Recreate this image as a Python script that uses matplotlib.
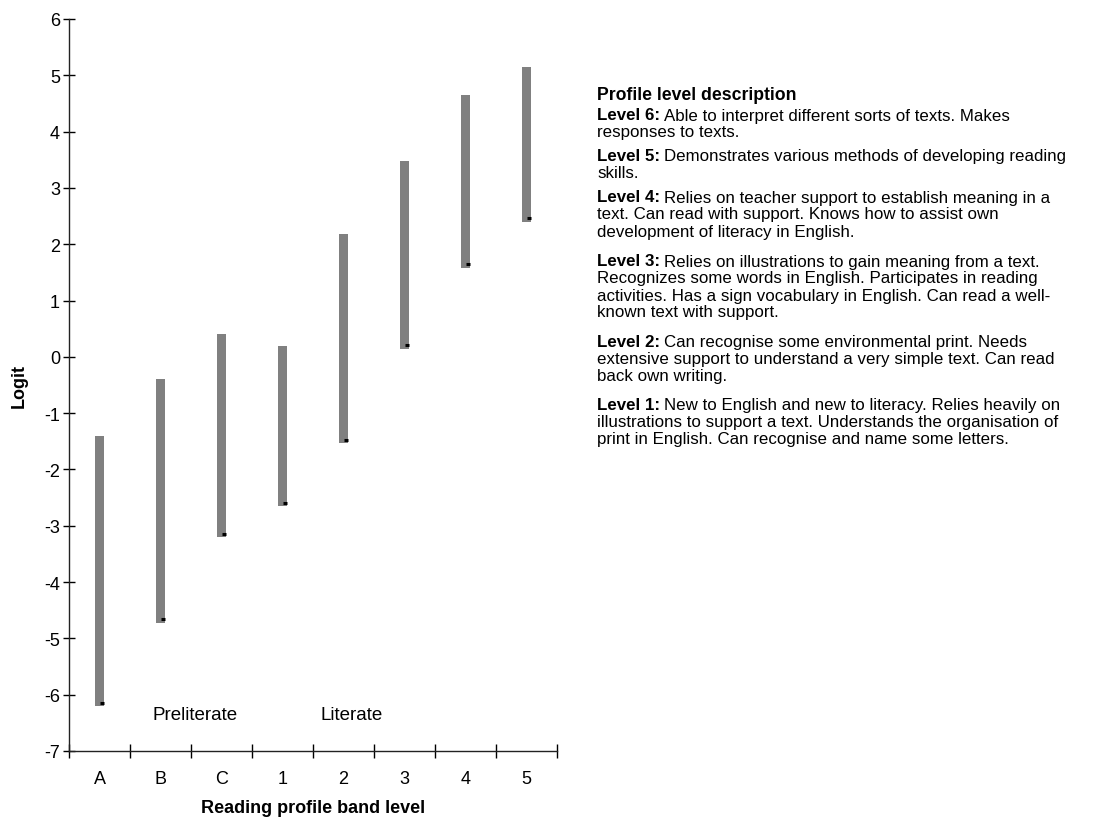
import matplotlib.pyplot as plt
import numpy as np

plt.rcParams['font.family'] = ['Liberation Sans', 'DejaVu Sans']
plt.rcParams['axes.unicode_minus'] = False

# band levels and logit ranges
bands = ['A', 'B', 'C', '1', '2', '3', '4', '5']
high = [-1.4, -0.4, 0.4, 0.2, 2.18, 3.48, 4.65, 5.15]
low = [-6.2, -4.72, -3.2, -2.65, -1.53, 0.14, 1.58, 2.40]
mark = [-6.14, -4.66, -3.14, -2.59, -1.47, 0.21, 1.65, 2.47]

levels = [
    ('Level 6:', 'Able to interpret different sorts of texts. Makes\nresponses to texts.'),
    ('Level 5:', 'Demonstrates various methods of developing reading\nskills.'),
    ('Level 4:', 'Relies on teacher support to establish meaning in a\ntext. Can read with support. Knows how to assist own\ndevelopment of literacy in English.'),
    ('Level 3:', 'Relies on illustrations to gain meaning from a text.\nRecognizes some words in English. Participates in reading\nactivities. Has a sign vocabulary in English. Can read a well-\nknown text with support.'),
    ('Level 2:', 'Can recognise some environmental print. Needs\nextensive support to understand a very simple text. Can read\nback own writing.'),
    ('Level 1:', 'New to English and new to literacy. Relies heavily on\nillustrations to support a text. Understands the organisation of\nprint in English. Can recognise and name some letters.'),
]

fig = plt.figure(figsize=(11.18, 8.2), dpi=100)
ax = fig.add_axes([69 / 1118, 1 - 752 / 820, (557 - 69) / 1118, (752 - 20) / 820])

x = np.arange(len(bands))
ax.bar(x, np.array(high) - np.array(low), bottom=low, width=0.135, color='#808080')
ax.hlines(mark, x, x + 0.08, color='black', lw=2.2)

ax.set_xlim(-0.5, len(bands) - 0.5)
ax.set_ylim(-7, 6)
ax.set_yticks(range(-7, 7))
ax.set_xticks(x)
ax.set_xticklabels(bands)
ax.set_xticks(np.arange(-0.5, len(bands)), minor=True)
ax.tick_params(axis='x', which='major', length=0, pad=14, labelsize=13)
ax.tick_params(axis='x', which='minor', direction='inout', length=10, width=1)
ax.tick_params(axis='y', direction='inout', length=9, width=1, labelsize=13, pad=2)
for s in ['top', 'right']:
    ax.spines[s].set_visible(False)
for s in ['left', 'bottom']:
    ax.spines[s].set_linewidth(1)
    ax.spines[s].set_color('#222222')

ax.set_ylabel('Logit', fontweight='bold', fontsize=13, labelpad=12)
ax.set_xlabel('Reading profile band level', fontweight='bold', fontsize=13, labelpad=8)

ax.text(1.56, -6.35, 'Preliterate', ha='center', va='center', fontsize=13.5)
ax.text(4.14, -6.35, 'Literate', ha='center', va='center', fontsize=13.5)

# description panel
fig.text(597 / 1118, 1 - 95 / 820, 'Profile level description', fontweight='bold',
         fontsize=12.7, va='center')
ypos = [116, 157, 198, 262, 343, 406]
for (head, body), yp in zip(levels, ypos):
    first, *rest = body.split('\n')
    t = fig.text(597 / 1118, 1 - yp / 820, head, fontweight='bold', fontsize=12.2, va='center')
    fig.canvas.draw()
    bb = t.get_window_extent()
    fig.text(bb.x1 / 1118 + 4 / 1118, 1 - yp / 820, first, fontsize=12.2, va='center')
    for i, line in enumerate(rest):
        fig.text(597 / 1118, 1 - (yp + 17 * (i + 1)) / 820, line, fontsize=12.2, va='center')

fig.savefig('out.png', dpi=100)
